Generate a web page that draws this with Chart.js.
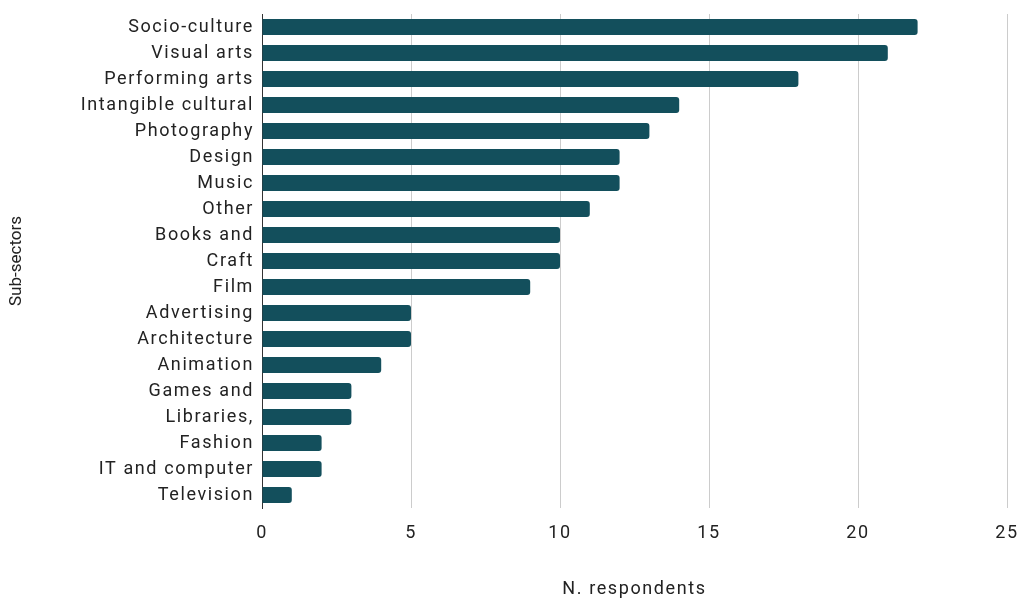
<!DOCTYPE html>
<html>
<head>
<meta charset="utf-8">
<script src="https://cdn.jsdelivr.net/npm/chart.js@4"></script>
<style>
  html, body { margin: 0; padding: 0; background: #fff; }
  #wrap { width: 1022px; height: 600px; }
</style>
</head>
<body>
<div id="wrap"><canvas id="subChart" width="1022" height="600"></canvas></div>
<script>
// chart data
const subSectors = [
    "Socio-culture", "Visual arts", "Performing arts", "Intangible cultural",
    "Photography", "Design", "Music", "Other", "Books and", "Craft", "Film",
    "Advertising", "Architecture", "Animation", "Games and", "Libraries,",
    "Fashion", "IT and computer", "Television"
];
const respondents = [22, 21, 18, 14, 13, 12, 12, 11, 10, 10, 9, 5, 5, 4, 3, 3, 2, 2, 1];
const xTicks = [0, 5, 10, 15, 20, 25];

const FONT = "Roboto, 'Liberation Sans', Arial, sans-serif";
const WIDE = "1.6px";

// the reference text is set wide, add some letter spacing
const spacing = {
    id: "spacing",
    beforeDraw: (chart) => { chart.ctx.letterSpacing = WIDE; }
};

// rotated y title is not spaced out in the reference
function plainTitle(s) {
    if (s._plainTitle) return;
    const orig = s.drawTitle.bind(s);
    s.drawTitle = (...args) => {
        s.ctx.letterSpacing = "0px";
        orig(...args);
        s.ctx.letterSpacing = WIDE;
    };
    s._plainTitle = true;
}

new Chart(document.getElementById("subChart"), {
    type: "bar",
    data: {
        labels: subSectors,
        datasets: [{
            label: "N. respondents",
            data: respondents,
            backgroundColor: "#134f5c",
            borderRadius: { topRight: 3, bottomRight: 3 },
            borderSkipped: "start",
            barPercentage: 0.62,
            categoryPercentage: 1
        }]
    },
    options: {
        indexAxis: "y",
        responsive: false,
        animation: false,
        layout: { padding: { top: 14, right: 15, left: 0, bottom: 0 } },
        plugins: {
            legend: { display: false },
            tooltip: { enabled: false }
        },
        scales: {
            x: {
                min: xTicks[0],
                max: xTicks[xTicks.length - 1],
                afterBuildTicks: (s) => { s.ticks = xTicks.map(v => ({ value: v })); },
                afterFit: (s) => { s.height = 92; s.paddingLeft = 0; s.paddingRight = 0; },
                grid: { color: "#cccccc", lineWidth: 1, drawTicks: false },
                border: { display: false },
                ticks: { color: "#222", font: { family: FONT, size: 18 }, padding: 15 },
                title: {
                    display: true,
                    text: "N. respondents",
                    color: "#222",
                    font: { family: FONT, size: 18 },
                    padding: { top: 33, bottom: 0 }
                }
            },
            y: {
                afterFit: (s) => {
                    s.width = 262; s.paddingTop = 0; s.paddingBottom = 0;
                    plainTitle(s);
                },
                grid: { display: false, drawTicks: false },
                border: { display: true, color: "#333", width: 1 },
                ticks: { color: "#222", font: { family: FONT, size: 18 }, padding: 8, autoSkip: false },
                title: {
                    display: true,
                    text: "Sub-sectors",
                    color: "#222",
                    font: { family: FONT, size: 17 },
                    padding: { top: 7, bottom: 0 }
                }
            }
        }
    },
    plugins: [spacing]
});
</script>
</body>
</html>
